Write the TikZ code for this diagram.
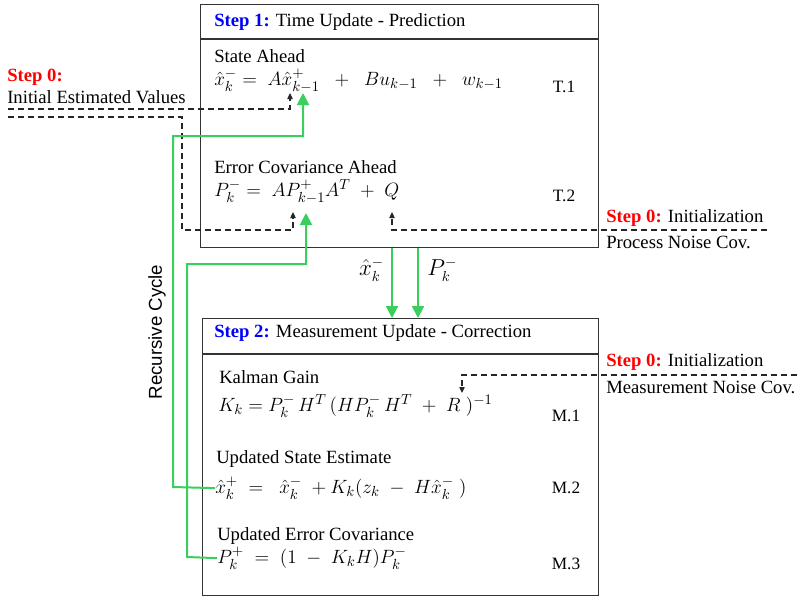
\documentclass[tikz,border=0pt]{standalone}
\usepackage{amsmath}
\usepackage{fontspec}
\setmainfont{Liberation Serif}
\newfontfamily\cyclefont{Liberation Sans}
\usetikzlibrary{arrows.meta,positioning}
\definecolor{cyclegreen}{RGB}{58,206,92}
\tikzset{
  box/.style={draw=black!80,line width=0.9pt,minimum width=#1*0.75pt,inner sep=0pt},
  lbl/.style={anchor=west,inner sep=0pt,font=\fontsize{14}{16}\selectfont},
  eqn/.style={anchor=base west,inner sep=0pt,font=\fontsize{15.5}{18}\selectfont},
  tag/.style={inner sep=0pt,font=\fontsize{13}{15}\selectfont},
  initline/.style={black!85,line width=0.9pt,dash pattern=on 4.5pt off 3pt,-{Triangle[length=4.5pt,width=4pt]}},
  cycleline/.style={cyclegreen,line width=1.5pt},
  cyclearrow/.style={cycleline,-{Triangle[length=9pt,width=9pt]}}
}
\newcommand{\stepone}[1]{\textcolor{blue}{\bfseries #1}}
\newcommand{\stepzero}[1]{\textcolor{red}{\bfseries #1}}
\begin{document}
\begin{tikzpicture}[x=0.75pt,y=-0.75pt]
\useasboundingbox (0,0) rectangle (802,597);
% Step 1 box
\node[box=398,minimum height=34*0.75pt,anchor=north west] (thead) at (200,4) {};
\node[box=398,minimum height=208*0.75pt,anchor=north] (tbody) at (thead.south) {};
\node[lbl] (ttitle) at (214,22) {\stepone{Step 1:} Time Update - Prediction};
\node[lbl] (t1name) at (214,56) {State Ahead};
\node[eqn] (t1eq) at (214,85) {$\hat{x}_k^- =\; A\hat{x}_{k-1}^+ \;\;+\;\; Bu_{k-1} \;\;+\;\; w_{k-1}$};
\node[tag] (t1tag) at (564,87) {T.1};
\node[lbl] (t2name) at (214,167) {Error Covariance Ahead};
\node[eqn] (t2eq) at (214,196) {$P_k^- =\; AP_{k-1}^+A^T \;+\; Q$};
\node[tag] (t2tag) at (564,196) {T.2};
% Step 2 box
\node[box=396,minimum height=35*0.75pt,anchor=north west] (mhead) at (202,318) {};
\node[box=396,minimum height=241*0.75pt,anchor=north] (mbody) at (mhead.south) {};
\node[lbl] (mtitle) at (214,333) {\stepone{Step 2:} Measurement Update - Correction};
\node[lbl] (m1name) at (219,377) {Kalman Gain};
\node[eqn] (m1eq) at (218,411) {$K_k = P_k^-\,H^T\,(HP_k^-\,H^T \;+\; R\;)^{-1}$};
\node[tag] (m1tag) at (566,416) {M.1};
\node[lbl] (m2name) at (216,459) {Updated State Estimate};
\node[eqn] (m2eq) at (215,493) {$\hat{x}_k^+ \;=\; \;\hat{x}_k^- \;+K_k(z_k \;-\; H\hat{x}_k^-\;)$};
\node[tag] (m2tag) at (566,488) {M.2};
\node[lbl] (m3name) at (217,536) {Updated Error Covariance};
\node[eqn] (m3eq) at (217,563) {$P_k^+ \;=\; (1 \;-\; K_kH)P_k^-$};
\node[tag] (m3tag) at (566,564) {M.3};
% Step 0 labels
\node[lbl] (s0left) at (7,77) {\stepzero{Step 0:}};
\node[lbl] (s0init) at (7,97) {Initial Estimated Values};
\node[lbl] (s0q) at (606,218) {\stepzero{Step 0:} Initialization};
\node[lbl] (s0qtxt) at (606,242) {Process Noise Cov.};
\node[lbl] (s0r) at (606,362) {\stepzero{Step 0:} Initialization};
\node[lbl] (s0rtxt) at (606,387) {Measurement Noise Cov.};
\node[rotate=90,inner sep=0pt,font=\cyclefont\fontsize{14}{16}\selectfont] (cyc) at (157,332) {Recursive Cycle};
% ends of the connectors
\coordinate (xin) at (8,109);
\coordinate (pin) at (8,117);
\coordinate (qin) at (767,230);
\coordinate (rin) at (797,375);
\coordinate (xtip) at (290,93);
\coordinate (ptip) at (293,212);
\coordinate (qtip) at (392,212);
\coordinate (rtip) at (462,393);
\coordinate (xback) at (303,93);
\coordinate (pback) at (306,213);
% initial values
\draw[initline] (xin) -| (xtip);
\draw[initline] (pin) -- (182,117) |- (293,230) -- (ptip);
\draw[initline] (qin) -| (qtip);
\draw[initline] (rin) -| (rtip);
% recursive cycle
\draw[cyclearrow] (m2eq.west) -- (173,487) |- (303,136) -- (xback);
\draw[cyclearrow] (m3eq.west) -- (187,557) |- (306,264) -- (pback);
\draw[cyclearrow] (tbody.south -| 392,0) -- (mhead.north -| 392,0) node[pos=0.3,left=2pt,text=black,font=\fontsize{16}{18}\selectfont] (xlbl) {$\hat{x}_k^-$};
\draw[cyclearrow] (tbody.south -| 418,0) -- (mhead.north -| 418,0) node[pos=0.3,right=3pt,text=black,font=\fontsize{16}{18}\selectfont] (plbl) {$P_k^-$};
\end{tikzpicture}
\end{document}
